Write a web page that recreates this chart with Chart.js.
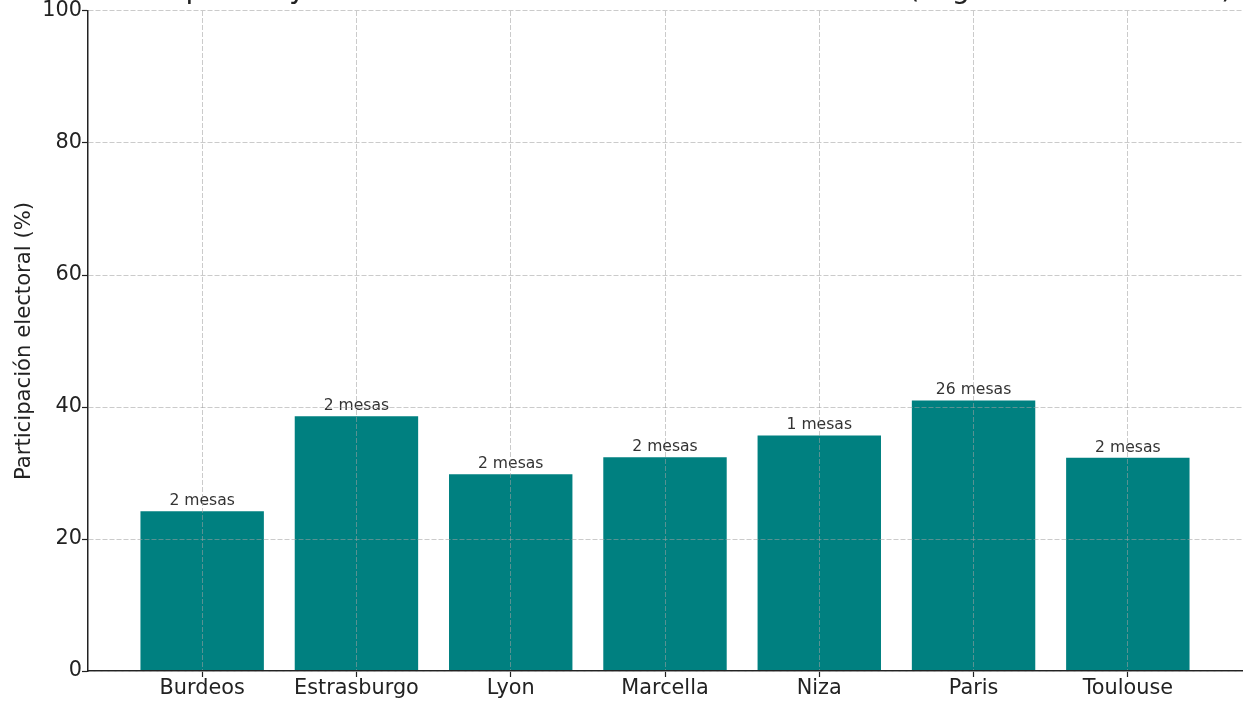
<!DOCTYPE html>
<html>
<head>
<meta charset="utf-8">
<script src="https://cdn.jsdelivr.net/npm/chart.js@4.4.0/dist/chart.umd.min.js"></script>
<style>
  html, body { margin: 0; padding: 0; background: #fff; overflow: hidden; }
  #wrap { width: 1258px; height: 713px; overflow: hidden; position: relative; }
  #chart { position: absolute; left: 0; top: -27px; }
</style>
</head>
<body>
<div id="wrap"><canvas id="chart" width="1258" height="740"></canvas></div>
<script>
// datos
const ciudades = ['Burdeos', 'Estrasburgo', 'Lyon', 'Marcella', 'Niza', 'Paris', 'Toulouse'];
const participacion = [24.2, 38.6, 29.8, 32.4, 35.7, 41.0, 32.3];
const mesas = [2, 2, 2, 2, 1, 26, 2];
const yTicks = [0, 20, 40, 60, 80, 100];

const FONT = 'DejaVu Sans';
const TEAL = '#008080';
const GRID = 'rgba(160, 160, 160, 0.55)';

// etiquetas "N mesas" encima de cada barra
const etiquetasMesas = {
    id: 'etiquetasMesas',
    afterDatasetsDraw(chart) {
        const ctx = chart.ctx;
        const meta = chart.getDatasetMeta(0);
        ctx.save();
        ctx.font = `15.6px "${FONT}"`;
        ctx.fillStyle = '#333';
        ctx.textAlign = 'center';
        ctx.textBaseline = 'alphabetic';
        meta.data.forEach((bar, i) => {
            ctx.fillText(`${mesas[i]} mesas`, bar.x, bar.y - 6);
        });
        ctx.restore();
    }
};

const gridOpts = {
    z: 1,
    color: GRID,
    lineWidth: 1,
    tickLength: 6,
    tickColor: '#222',
    tickBorderDash: [],
    tickWidth: 1.2
};

new Chart(document.getElementById('chart'), {
    type: 'bar',
    plugins: [etiquetasMesas],
    data: {
        datasets: [{
            data: ciudades.map((c, i) => ({ x: i, y: participacion[i] })),
            backgroundColor: TEAL,
            borderWidth: 0,
            barPercentage: 1,
            categoryPercentage: 0.8
        }]
    },
    options: {
        responsive: false,
        animation: false,
        devicePixelRatio: 1,
        layout: { padding: { left: 0, right: 16, top: 0, bottom: 0 } },
        plugins: {
            legend: { display: false },
            tooltip: { enabled: false },
            title: {
                display: true,
                fullSize: false,
                text: 'Participación y número de mesas en ciudades francesas (segunda vuelta 2022)',
                font: { family: FONT, size: 28.5, weight: 'normal' },
                color: '#222',
                padding: { top: 0, bottom: 3.8 }
            }
        },
        scales: {
            x: {
                type: 'linear',
                min: -0.74,
                max: 6.74,
                offset: false,
                afterBuildTicks: s => { s.ticks = ciudades.map((c, i) => ({ value: i })); },
                afterFit: s => { s.height = 42; },
                ticks: {
                    callback: v => ciudades[v],
                    font: { family: FONT, size: 20.8 },
                    color: '#222',
                    padding: -1,
                    maxRotation: 0,
                    autoSkip: false
                },
                grid: Object.assign({ offset: false }, gridOpts),
                border: { display: true, color: '#222', width: 1.5, z: 1, dash: [5, 2] }
            },
            y: {
                min: 0,
                max: 100,
                afterBuildTicks: s => { s.ticks = yTicks.map(v => ({ value: v })); },
                afterFit: s => { s.width = 88; },
                ticks: {
                    font: { family: FONT, size: 20.8 },
                    color: '#222',
                    padding: 0
                },
                grid: gridOpts,
                border: { display: true, color: '#222', width: 1.5, z: 1, dash: [5, 2] },
                title: {
                    display: true,
                    text: 'Participación electoral (%)',
                    font: { family: FONT, size: 21.2 },
                    color: '#222',
                    padding: { top: 12, bottom: 0 }
                }
            }
        }
    }
});
</script>
</body>
</html>
